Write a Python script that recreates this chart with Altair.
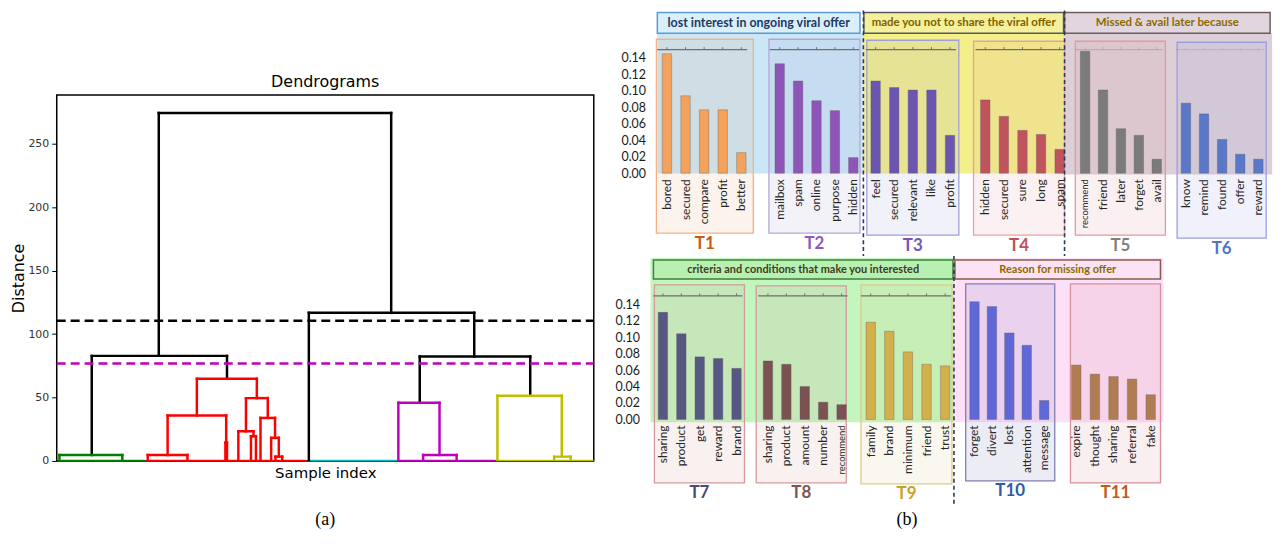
import altair as alt
import pandas as pd

# ======================= (a) Dendrogram data =======================
LINK_XL = [102.6, 35.2, 253.5, 365.0, 2.7, 140.9, 111.5, 91.5, 169.6, 190.3, 182.6, 195.3, 204.9, 215.6, 219.9, 343.5, 368.4, 443.1, 500.2]
LINK_XR = [336.3, 171.2, 419.8, 476.1, 65.9, 201.2, 170.4, 131.4, 171.2, 212.2, 197.8, 200.3, 219.5, 223.3, 226.7, 384.9, 402.1, 507.8, 516.7]
LINK_TOP = [274.2, 82.8, 116.7, 82.3, 4.7, 64.8, 35.9, 4.7, 14.3, 49.5, 23.4, 19.5, 33.9, 18.2, 3.4, 45.8, 4.7, 51.3, 3.4]
LINK_BOT_L = [82.8, 4.7, 0, 45.8, 0, 35.9, 4.7, 0, 0, 23.4, 0, 0, 0, 0, 0, 0, 0, 0, 0]
LINK_BOT_R = [116.7, 64.8, 82.3, 51.3, 0, 49.5, 14.3, 0, 0, 33.9, 19.5, 0, 18.2, 3.4, 0, 4.7, 0, 3.4, 0]
LINK_CLUSTER = ["k", "k", "k", "k", "g", "r", "r", "r", "r", "r", "r", "r", "r", "r", "r", "m", "m", "y", "y"]
LEAF_X1 = [2.7, 91.5, 253.5, 343.5, 443.1]
LEAF_X2 = [88.1, 250.9, 342.8, 440.4, 540.0]
LEAF_CLUSTER = ["g", "r", "c", "m", "y"]
CUT_HEIGHTS = [110.4, 76.8]
CUT_CLUSTER = ["k", "m"]
SAMPLE_RANGE = [0, 540]
DIST_RANGE = [0, 288.4]
DIST_TICKS = [0, 50, 100, 150, 200, 250]

# ======================= (b) Topic bar data =======================
TOPICS = ["T1", "T2", "T3", "T4", "T5", "T6", "T7", "T8", "T9", "T10", "T11"]
T1_WORDS = ["bored", "secured", "compare", "profit", "better"]
T1_VALUES = [0.145, 0.094, 0.077, 0.077, 0.025]
T2_WORDS = ["mailbox", "spam", "online", "purpose", "hidden"]
T2_VALUES = [0.133, 0.112, 0.088, 0.076, 0.019]
T3_WORDS = ["feel", "secured", "relevant", "like", "profit"]
T3_VALUES = [0.112, 0.104, 0.101, 0.101, 0.046]
T4_WORDS = ["hidden", "secured", "sure", "long", "spam"]
T4_VALUES = [0.089, 0.069, 0.052, 0.047, 0.029]
T5_WORDS = ["recommend", "friend", "later", "forget", "avail"]
T5_VALUES = [0.148, 0.101, 0.054, 0.046, 0.017]
T6_WORDS = ["know", "remind", "found", "offer", "reward"]
T6_VALUES = [0.085, 0.072, 0.041, 0.023, 0.017]
T7_WORDS = ["sharing", "product", "get", "reward", "brand"]
T7_VALUES = [0.130, 0.104, 0.076, 0.074, 0.062]
T8_WORDS = ["sharing", "product", "amount", "number", "recommend"]
T8_VALUES = [0.071, 0.067, 0.040, 0.021, 0.018]
T9_WORDS = ["family", "brand", "minimum", "friend", "trust"]
T9_VALUES = [0.118, 0.107, 0.082, 0.067, 0.065]
T10_WORDS = ["forget", "divert", "lost", "attention", "message"]
T10_VALUES = [0.143, 0.137, 0.105, 0.090, 0.023]
T11_WORDS = ["expire", "thought", "sharing", "referral", "fake"]
T11_VALUES = [0.066, 0.055, 0.052, 0.049, 0.030]
TOPIC_WORDS = [T1_WORDS, T2_WORDS, T3_WORDS, T4_WORDS, T5_WORDS, T6_WORDS,
               T7_WORDS, T8_WORDS, T9_WORDS, T10_WORDS, T11_WORDS]
TOPIC_VALUES = [T1_VALUES, T2_VALUES, T3_VALUES, T4_VALUES, T5_VALUES, T6_VALUES,
                T7_VALUES, T8_VALUES, T9_VALUES, T10_VALUES, T11_VALUES]
GROUP_TITLES = ["lost interest in ongoing viral offer",
                "made you not to share the viral offer",
                "Missed & avail later because",
                "criteria and conditions that make you interested",
                "Reason for missing offer"]
Y_TICKS_B = [0.0, 0.02, 0.04, 0.06, 0.08, 0.10, 0.12, 0.14]

# ======================= layout & style (not data) =======================
CLUSTER_COLORS = {"k": "#000000", "g": "#008000", "r": "#ff0000", "c": "#00bfbf",
                  "m": "#bf00bf", "y": "#bfbf00"}
SMALL_LABEL_WORDS = ["recommend"]

TOPIC_LAYOUT = [
    dict(row=0, box=(654, 753, 37, 232), c0=664.8, step=19.0, edge="#f4b183", bar="#f2a25c", lab="#c55a11", line=1.0),
    dict(row=0, box=(769, 862, 37, 232), c0=780.0, step=18.8, edge="#b4a7d6", bar="#8e55b8", lab="#8e5ab5", line=1.0),
    dict(row=0, box=(869, 963, 38, 234), c0=878.0, step=19.0, edge="#a09fd9", bar="#6a56b0", lab="#7a52b8", line=1.0),
    dict(row=0, box=(978, 1071, 39, 234), c0=990.0, step=19.0, edge="#e6a0a8", bar="#c0545e", lab="#c0505a", line=1.0),
    dict(row=0, box=(1082, 1174, 39, 234), c0=1092.0, step=18.3, edge="#e49aa0", bar="#7b7b7b", lab="#808080", line=0.3),
    dict(row=0, box=(1186, 1277, 40, 237), c0=1195.0, step=18.5, edge="#9d9ee0", bar="#5b78c8", lab="#4f74c8", line=0.2),
    dict(row=1, box=(652, 744, 284, 483), c0=660.7, step=18.8, edge="#d49a9a", bar="#575783", lab="#4b4b7a", line=1.0),
    dict(row=1, box=(756, 848, 285, 483), c0=768.0, step=18.8, edge="#d49a9a", bar="#7b5252", lab="#7a5555", line=1.0),
    dict(row=1, box=(863, 956, 284, 484), c0=873.0, step=19.0, edge="#dccb8a", bar="#d4b04c", lab="#c9a227", line=1.0),
    dict(row=1, box=(970, 1061, 283, 481), c0=979.0, step=17.8, edge="#7f7fb2", bar="#6068d8", lab="#2e5aac", line=0.0),
    dict(row=1, box=(1077, 1169, 283, 483), c0=1083.0, step=19.0, edge="#d9909a", bar="#b07c52", lab="#c55a11", line=0.0),
]
GROUP_LAYOUT = [
    dict(row=0, bg=(655, 865, 31, 172), head=(655, 862, 10, 31), hfill="#d9f0fb", hstroke="#5b9bd5", bgfill="#c9e7f6", tcol="#1f3864", fs=12.5),
    dict(row=0, bg=(865, 1071, 31, 172), head=(866, 1070, 10, 31), hfill="#f4f09c", hstroke="#595959", bgfill="#f3ef8a", tcol="#7f6000", fs=11.5),
    dict(row=0, bg=(1071, 1283, 31, 173), head=(1071, 1281, 10, 31), hfill="#e2d6de", hstroke="#6b5b5b", bgfill="#dccfd8", tcol="#8a6a00", fs=11.5),
    dict(row=1, bg=(648, 958, 257, 422), head=(651, 957, 259, 278), hfill="#b8f0b2", hstroke="#3f7f3f", bgfill="#c3f5bf", tcol="#3d3d1f", fs=11),
    dict(row=1, bg=(958, 1172, 257, 422), head=(959, 1169, 259, 278), hfill="#fde2f6", hstroke="#80604a", bgfill="#fde0f7", tcol="#8a6a00", fs=11),
]
ROW_LAYOUT = [dict(top=8, height=247, base=171.7, ppu=828.57, lpad=2),
              dict(top=255, height=275, base=419.3, ppu=828.57, lpad=8)]
SEPARATORS = [dict(row=0, x=865.5, y0=8, y1=255), dict(row=0, x=1071, y0=8, y1=255),
              dict(row=1, x=958, y0=255, y1=505)]
PANEL_X = [650, 1285]

# ======================= (a) chart =======================
seg = []
for xl, xr, top, bl, br, c in zip(LINK_XL, LINK_XR, LINK_TOP, LINK_BOT_L, LINK_BOT_R, LINK_CLUSTER):
    col = CLUSTER_COLORS[c]
    seg.append(dict(x=xl, x2=xr, y=top, y2=top, c=col))
    seg.append(dict(x=xl, x2=xl, y=bl, y2=top, c=col))
    seg.append(dict(x=xr, x2=xr, y=br, y2=top, c=col))
seg_df = pd.DataFrame(seg)
leaf_df = pd.DataFrame(dict(x=LEAF_X1, x2=LEAF_X2, y=[0.0] * len(LEAF_X1),
                            c=[CLUSTER_COLORS[c] for c in LEAF_CLUSTER]))
cut_df = pd.DataFrame(dict(x=[SAMPLE_RANGE[0]] * 2, x2=[SAMPLE_RANGE[1]] * 2, y=CUT_HEIGHTS,
                           c=[CLUSTER_COLORS[c] for c in CUT_CLUSTER]))
frame_df = pd.DataFrame(dict(x=[SAMPLE_RANGE[0]], x2=[SAMPLE_RANGE[1]], y=[DIST_RANGE[0]], y2=[DIST_RANGE[1]]))
mid_x = (SAMPLE_RANGE[0] + SAMPLE_RANGE[1]) / 2
title_df = pd.DataFrame(dict(x=[mid_x], t=["Dendrograms"]))
cap_a_df = pd.DataFrame(dict(x=[mid_x], t=["(a)"]))

LW, LH = 540, 453
xs = alt.Scale(domain=SAMPLE_RANGE, nice=False, zero=False)
ys = alt.Scale(domain=DIST_RANGE, range=[LH, 85], nice=False, zero=False)
x_axis = alt.Axis(title="Sample index", labels=False, ticks=False, domain=False, grid=False,
                  titleFont="DejaVu Sans", titleFontSize=15, titleFontWeight="normal",
                  titleColor="#000000", titlePadding=5)
y_axis = alt.Axis(title="Distance", values=DIST_TICKS, tickSize=5, tickColor="#000000", tickWidth=1,
                  labelFont="DejaVu Sans", labelFontSize=11, labelColor="#333333", labelPadding=3,
                  domain=False, grid=False, titleFont="DejaVu Sans", titleFontSize=16,
                  titleFontWeight="normal", titleColor="#000000", titlePadding=1)
XA = lambda f: alt.X(f, scale=xs, axis=x_axis)
YA = lambda f: alt.Y(f, scale=ys, axis=y_axis)

frame = alt.Chart(frame_df).mark_rect(fillOpacity=0, stroke="#000000", strokeWidth=1.5).encode(
    x=XA("x:Q"), x2="x2:Q", y=YA("y:Q"), y2="y2:Q")
leaves = alt.Chart(leaf_df).mark_rule(strokeWidth=2.5, clip=True).encode(
    x=XA("x:Q"), x2="x2:Q", y=YA("y:Q"), color=alt.Color("c:N", scale=None))
links = alt.Chart(seg_df).mark_rule(strokeWidth=2.5, strokeCap="square", clip=True).encode(
    x=XA("x:Q"), x2="x2:Q", y=YA("y:Q"), y2="y2:Q", color=alt.Color("c:N", scale=None))
cuts = alt.Chart(cut_df).mark_rule(strokeWidth=2.5, strokeDash=[9, 5]).encode(
    x=XA("x:Q"), x2="x2:Q", y=YA("y:Q"), color=alt.Color("c:N", scale=None))
title_a = alt.Chart(title_df).mark_text(font="DejaVu Sans", fontSize=16, baseline="middle", y=72,
                                        color="#000000").encode(x=XA("x:Q"), text="t:N")
cap_a = alt.Chart(cap_a_df).mark_text(font="Liberation Serif", fontSize=18, baseline="middle", y=512,
                                      color="#000000").encode(x=XA("x:Q"), text="t:N")
left = alt.layer(frame, leaves, links, cuts, title_a, cap_a).properties(width=LW, height=LH)


# ======================= (b) charts =======================
def build_row(r):
    R = ROW_LAYOUT[r]
    pv = lambda py: (R["base"] - py) / R["ppu"]
    xs_r = alt.Scale(domain=PANEL_X, nice=False, zero=False)
    ys_r = alt.Scale(domain=[0, 0.14], range=[R["base"] - R["top"], R["base"] - 0.14 * R["ppu"] - R["top"]],
                     nice=False, zero=False)
    y_axis_r = alt.Axis(values=Y_TICKS_B, format=".2f", ticks=False, domain=False, grid=False,
                        labelPadding=R["lpad"], labelFont="Lato", labelFontSize=12.5,
                        labelColor="#1a1a1a", title=None)
    X = lambda f: alt.X(f, scale=xs_r, axis=None)
    Y = lambda f: alt.Y(f, scale=ys_r, axis=y_axis_r)

    groups = [(g, GROUP_TITLES[i]) for i, g in enumerate(GROUP_LAYOUT) if g["row"] == r]
    gbg = pd.DataFrame([dict(x=g["bg"][0], x2=g["bg"][1], y=pv(g["bg"][2]), y2=pv(g["bg"][3]), f=g["bgfill"])
                        for g, _ in groups])
    ghead = pd.DataFrame([dict(x=g["head"][0], x2=g["head"][1], y=pv(g["head"][2]), y2=pv(g["head"][3]),
                               f=g["hfill"], s=g["hstroke"], t=t, tc=g["tcol"], fs=g["fs"],
                               xm=(g["head"][0] + g["head"][1]) / 2, ym=pv((g["head"][2] + g["head"][3]) / 2 + 0.5))
                          for g, t in groups])

    boxes, bars, tops, ticks, labels = [], [], [], [], []
    for k, L in enumerate(TOPIC_LAYOUT):
        if L["row"] != r:
            continue
        bx0, bx1, by0, by1 = L["box"]
        boxes.append(dict(x=bx0, x2=bx1, y=pv(by0), y2=pv(by1), s=L["edge"]))
        labels.append(dict(x=(bx0 + bx1) / 2, y=pv(by1 + 10.5), t=TOPICS[k], c=L["lab"]))
        cs = [L["c0"] + i * L["step"] for i in range(len(TOPIC_WORDS[k]))]
        for i, (w, v) in enumerate(zip(TOPIC_WORDS[k], TOPIC_VALUES[k])):
            bars.append(dict(x=cs[i], value=v, word=w, f=L["bar"],
                             wy=pv(R["base"] + 6), fs=9.5 if w in SMALL_LABEL_WORDS else 12))
            ticks.append(dict(x=cs[i], y=pv(R["base"] - 0.150 * R["ppu"]),
                              y2=pv(R["base"] - 0.150 * R["ppu"] - 2.5), op=L["line"]))
        tops.append(dict(x=cs[0] - 10, x2=cs[-1] + 6, y=0.150, op=L["line"]))
    boxes, bars, tops, ticks, labels = map(pd.DataFrame, (boxes, bars, tops, ticks, labels))
    seps = pd.DataFrame([dict(x=s["x"], y=pv(s["y0"]), y2=pv(s["y1"])) for s in SEPARATORS if s["row"] == r])

    lay = [
        alt.Chart(gbg).mark_rect().encode(x=X("x:Q"), x2="x2:Q", y=Y("y:Q"), y2="y2:Q",
                                           color=alt.Color("f:N", scale=None)),
        alt.Chart(ghead).mark_rect(strokeWidth=1.5).encode(
            x=X("x:Q"), x2="x2:Q", y=Y("y:Q"), y2="y2:Q",
            fill=alt.Fill("f:N", scale=None), stroke=alt.Stroke("s:N", scale=None)),
        alt.Chart(ghead).mark_text(font="Lato", fontWeight="bold", baseline="middle").encode(
            x=X("xm:Q"), y=Y("ym:Q"), text="t:N", color=alt.Color("tc:N", scale=None),
            size=alt.Size("fs:Q", scale=None)),
        alt.Chart(boxes).mark_rect(fillOpacity=0.15, strokeWidth=1.3).encode(
            x=X("x:Q"), x2="x2:Q", y=Y("y:Q"), y2="y2:Q",
            fill=alt.Fill("s:N", scale=None), stroke=alt.Stroke("s:N", scale=None)),
        alt.Chart(tops).mark_rule(strokeWidth=1.3, color="#6f6f6f").encode(
            x=X("x:Q"), x2="x2:Q", y=Y("y:Q"), opacity=alt.Opacity("op:Q", scale=None)),
        alt.Chart(ticks).mark_rule(strokeWidth=1, color="#6f6f6f").encode(
            x=X("x:Q"), y=Y("y:Q"), y2="y2:Q", opacity=alt.Opacity("op:Q", scale=None)),
        alt.Chart(bars).mark_bar(size=9.5, stroke="#5a5a5a", strokeWidth=0.6, strokeOpacity=0.6).encode(
            x=X("x:Q"), y=Y("value:Q"), color=alt.Color("f:N", scale=None)),
        alt.Chart(bars).mark_text(angle=270, align="right", baseline="middle", font="Lato",
                                  color="#262626").encode(
            x=X("x:Q"), y=Y("wy:Q"), text="word:N", size=alt.Size("fs:Q", scale=None)),
        alt.Chart(labels).mark_text(font="Lato", fontWeight="bold", fontSize=17, baseline="middle").encode(
            x=X("x:Q"), y=Y("y:Q"), text="t:N", color=alt.Color("c:N", scale=None)),
        alt.Chart(seps).mark_rule(strokeDash=[4, 3], strokeWidth=1.6, color="#2b3a55").encode(
            x=X("x:Q"), y=Y("y:Q"), y2="y2:Q"),
    ]
    if r == 1:
        cap = pd.DataFrame(dict(x=[910], y=[pv(520)], t=["(b)"]))
        lay.append(alt.Chart(cap).mark_text(font="Liberation Serif", fontSize=18, baseline="middle",
                                            color="#000000").encode(x=X("x:Q"), y=Y("y:Q"), text="t:N"))
    return alt.layer(*lay).properties(width=PANEL_X[1] - PANEL_X[0], height=R["height"])


right = alt.vconcat(build_row(0), build_row(1), spacing=0, bounds="flush")
chart = alt.hconcat(left, right, spacing=54, bounds="flush").properties(
    padding={"left": 3, "top": 0, "right": 0, "bottom": 0}
).configure_view(strokeOpacity=0)

chart.save("out.html", embed_options={"renderer": "svg", "actions": False})
